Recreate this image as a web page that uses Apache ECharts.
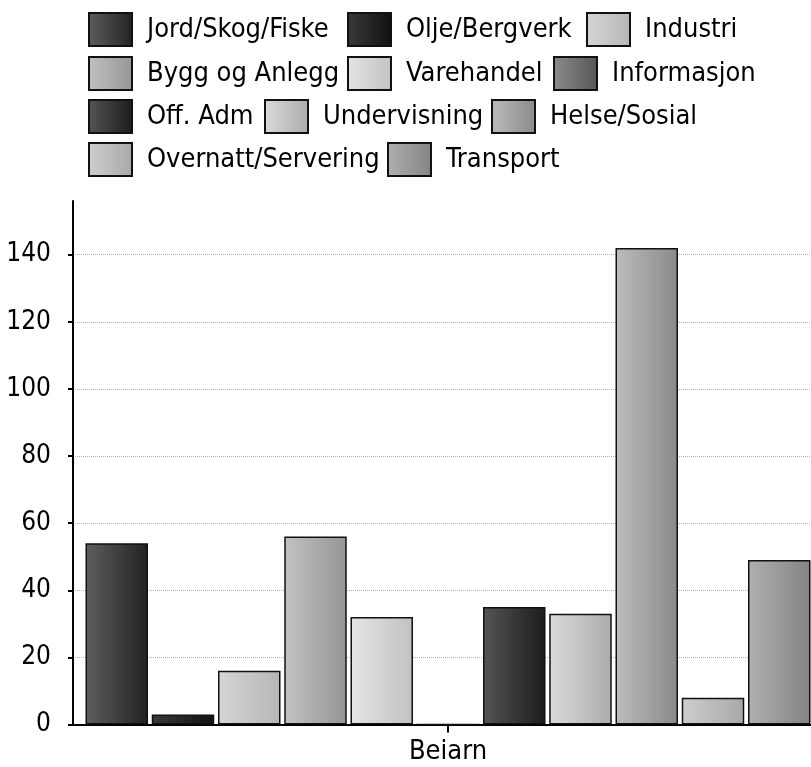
<!DOCTYPE html>
<html>
<head>
<meta charset="utf-8">
<script src="https://cdn.jsdelivr.net/npm/echarts@6/dist/echarts.min.js"></script>
<style>
html,body{margin:0;padding:0;background:#fff;overflow:hidden;width:811px;height:767px;}
#chart{width:830px;height:767px;}
</style>
</head>
<body>
<div id="chart"></div>
<script>
// ---- data ----
const categories = ['Beiarn'];
const seriesNames = ['Jord/Skog/Fiske','Olje/Bergverk','Industri','Bygg og Anlegg','Varehandel','Informasjon','Off. Adm','Undervisning','Helse/Sosial','Overnatt/Servering','Transport'];
const seriesValues = [54, 3, 16, 56, 32, 0, 35, 33, 142, 8, 49];
const yTickLabels = [0, 20, 40, 60, 80, 100, 120, 140];

// ---- styles ----
const colorStops = [
  ['#5e5e5e','#222222'],
  ['#3a3a3a','#111111'],
  ['#d6d6d6','#b6b6b6'],
  ['#c2c2c2','#959595'],
  ['#e4e4e4','#c2c2c2'],
  ['#8c8c8c','#555555'],
  ['#555555','#1c1c1c'],
  ['#dadada','#acacac'],
  ['#bcbcbc','#8a8a8a'],
  ['#cecece','#a8a8a8'],
  ['#b0b0b0','#838383']
];
const legendPos = [
  [88,12],[347,12],[586,12],
  [88,56],[347,56],[553,56],
  [88,99],[264,99],[491,99],
  [88,142],[387,142]
];
const FONT = '"DejaVu Sans Condensed", "DejaVu Sans", sans-serif';

function grad(i){
  return {type:'linear',x:0,y:0,x2:1,y2:0,colorStops:[{offset:0,color:colorStops[i][0]},{offset:1,color:colorStops[i][1]}]};
}

const chart = echarts.init(document.getElementById('chart'), null, {renderer:'canvas'});
const option = {
  animation:false,
  backgroundColor:'#ffffff',
  legend: seriesNames.map((n,i)=>({
    data:[n],
    icon:'rect',
    left: legendPos[i][0],
    top: legendPos[i][1],
    padding:0,
    itemWidth:43,
    itemHeight:33,
    textStyle:{fontFamily:FONT,fontSize:27,color:'#000',padding:[0,0,0,10]}
  })),
  grid:{left:73, top:201, width:750, height:523.5, containLabel:false},
  xAxis:{
    type:'category',
    data:categories,
    axisLine:{lineStyle:{color:'#000',width:2}},
    axisTick:{show:false},
    axisLabel:{fontFamily:FONT,fontSize:27,color:'#000',margin:14}
  },
  yAxis:{
    type:'value',
    min:0,
    max:156,
    interval:20,
    axisLine:{show:true,lineStyle:{color:'#000',width:2}},
    axisTick:{show:true,length:5,customValues:yTickLabels,lineStyle:{color:'#000',width:2}},
    axisLabel:{fontFamily:FONT,fontSize:26,color:'#000',margin:22,customValues:yTickLabels},
    splitLine:{show:true,lineStyle:{type:'dotted',width:1,color:['#b0b0b0','#b0b0b0','#b0b0b0','#b0b0b0','#b0b0b0','#b0b0b0','#b0b0b0','#b0b0b0','rgba(0,0,0,0)']}}
  },
  series: seriesNames.map((n,i)=>({
    name:n,
    type:'bar',
    data:[seriesValues[i]],
    barWidth:62.5,
    barGap:'6%',
    itemStyle:{color:grad(i),borderColor:'#111',borderWidth:1.5}
  }))
};
chart.setOption(option);
// category tick at the band centre, positioned through the axis scale
const px = chart.convertToPixel({xAxisIndex:0}, 0);
const py = chart.convertToPixel({yAxisIndex:0}, 0);
if (isFinite(px) && isFinite(py)) {
  chart.setOption({graphic:{elements:[{type:'rect',shape:{x:px-1,y:py,width:2,height:8},style:{fill:'#000'},z:100}]}});
}
</script>
</body>
</html>
